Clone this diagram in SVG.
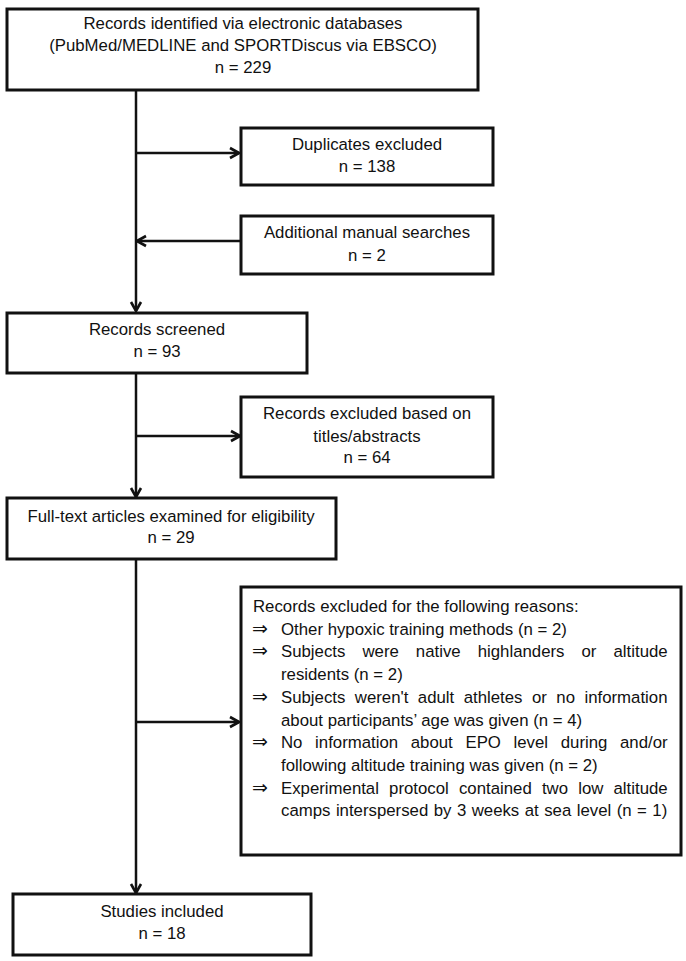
<svg xmlns="http://www.w3.org/2000/svg" width="686" height="961" viewBox="0 0 686 961">
<style>
.box{fill:#fff;stroke:#111;stroke-width:3}
.t{font-family:"Liberation Sans",Arial,"DejaVu Sans",sans-serif;font-size:16.8px;fill:#111}
.c{text-anchor:middle}
.ar{font-family:"DejaVu Sans","Liberation Sans",sans-serif;font-size:19px;fill:#111}
.ln{fill:none;stroke:#111;stroke-width:2.5}
</style>
<defs>
<marker id="arr" markerUnits="userSpaceOnUse" markerWidth="14" markerHeight="14" viewBox="0 0 14 14" refX="12" refY="7" orient="auto">
<path d="M3,2 L12,7 L3,12" fill="none" stroke="#111" stroke-width="2.6"/>
</marker>
</defs>
<rect width="686" height="961" fill="#fff"/>
<g id="connectors">
<line class="ln" x1="136" y1="90" x2="136" y2="311" marker-end="url(#arr)"/>
<line class="ln" x1="136" y1="153" x2="239" y2="153" marker-end="url(#arr)"/>
<line class="ln" x1="240" y1="241" x2="137" y2="241" marker-end="url(#arr)"/>
<line class="ln" x1="136" y1="373" x2="136" y2="497" marker-end="url(#arr)"/>
<line class="ln" x1="136" y1="436" x2="240" y2="436" marker-end="url(#arr)"/>
<line class="ln" x1="136" y1="559" x2="136" y2="893" marker-end="url(#arr)"/>
<line class="ln" x1="136" y1="722" x2="239" y2="722" marker-end="url(#arr)"/>
</g>
<g id="identified">
<rect class="box" x="7" y="9" width="471" height="81"/>
<text class="t c" x="243" y="29">Records identified via electronic databases</text>
<text class="t c" x="243" y="51">(PubMed/MEDLINE and SPORTDiscus via EBSCO)</text>
<text class="t c" x="243" y="73">n = 229</text>
</g>
<g id="duplicates">
<rect class="box" x="241" y="128" width="252" height="57"/>
<text class="t c" x="367" y="150">Duplicates excluded</text>
<text class="t c" x="367" y="172">n = 138</text>
</g>
<g id="additional">
<rect class="box" x="241" y="216" width="252" height="58"/>
<text class="t c" x="367" y="238">Additional manual searches</text>
<text class="t c" x="367" y="261">n = 2</text>
</g>
<g id="screened">
<rect class="box" x="7" y="313" width="300" height="60"/>
<text class="t c" x="157" y="335">Records screened</text>
<text class="t c" x="157" y="357">n = 93</text>
</g>
<g id="excluded-titles">
<rect class="box" x="241" y="397" width="252" height="80"/>
<text class="t c" x="367" y="419">Records excluded based on</text>
<text class="t c" x="367" y="442">titles/abstracts</text>
<text class="t c" x="367" y="463">n = 64</text>
</g>
<g id="fulltext">
<rect class="box" x="7" y="498" width="329" height="61"/>
<text class="t c" x="171" y="522">Full-text articles examined for eligibility</text>
<text class="t c" x="171" y="543">n = 29</text>
</g>
<g id="excluded-reasons">
<rect class="box" x="241" y="587" width="440" height="268"/>
<text class="t" x="253" y="612">Records excluded for the following reasons:</text>
<text class="ar" x="252" y="634.7">⇒</text>
<text class="t" x="281" y="634.7">Other hypoxic training methods (n = 2)</text>
<text class="ar" x="252" y="657.4">⇒</text>
<text class="t" x="281" y="657.4" style="word-spacing:12.4px">Subjects were native highlanders or altitude</text>
<text class="t" x="281" y="680.1">residents (n = 2)</text>
<text class="ar" x="252" y="702.8">⇒</text>
<text class="t" x="281" y="702.8" style="word-spacing:4.8px">Subjects weren't adult athletes or no information</text>
<text class="t" x="281" y="725.5">about participants’ age was given (n = 4)</text>
<text class="ar" x="252" y="748.2">⇒</text>
<text class="t" x="281" y="748.2" style="word-spacing:8px">No information about EPO level during and/or</text>
<text class="t" x="281" y="770.9">following altitude training was given (n = 2)</text>
<text class="ar" x="252" y="793.6">⇒</text>
<text class="t" x="281" y="793.6" style="word-spacing:5.5px">Experimental protocol contained two low altitude</text>
<text class="t" x="281" y="816.3" style="word-spacing:0.8px">camps interspersed by 3 weeks at sea level (n = 1)</text>
</g>
<g id="included">
<rect class="box" x="13" y="894" width="298" height="61"/>
<text class="t c" x="162" y="917">Studies included</text>
<text class="t c" x="162" y="939">n = 18</text>
</g>
</svg>
